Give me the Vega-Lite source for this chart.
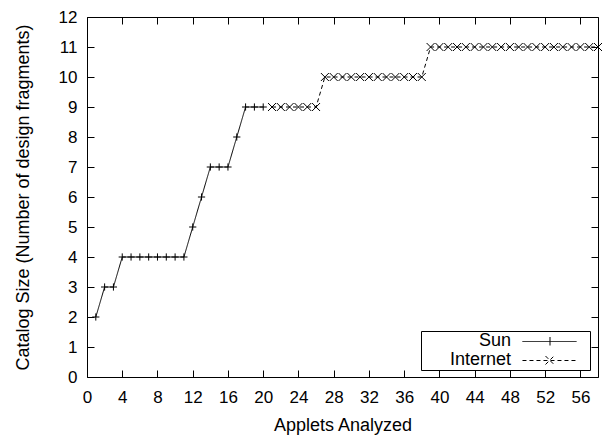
{
  "$schema": "https://vega.github.io/schema/vega-lite/v6.json",
  "width": 511,
  "height": 360,
  "autosize": "none",
  "padding": {"left": 87, "top": 17, "right": 4, "bottom": 58},
  "data": {
    "values": [
      {"applets": 1, "size": 2, "series": "Sun"},
      {"applets": 2, "size": 3, "series": "Sun"},
      {"applets": 3, "size": 3, "series": "Sun"},
      {"applets": 4, "size": 4, "series": "Sun"},
      {"applets": 5, "size": 4, "series": "Sun"},
      {"applets": 6, "size": 4, "series": "Sun"},
      {"applets": 7, "size": 4, "series": "Sun"},
      {"applets": 8, "size": 4, "series": "Sun"},
      {"applets": 9, "size": 4, "series": "Sun"},
      {"applets": 10, "size": 4, "series": "Sun"},
      {"applets": 11, "size": 4, "series": "Sun"},
      {"applets": 12, "size": 5, "series": "Sun"},
      {"applets": 13, "size": 6, "series": "Sun"},
      {"applets": 14, "size": 7, "series": "Sun"},
      {"applets": 15, "size": 7, "series": "Sun"},
      {"applets": 16, "size": 7, "series": "Sun"},
      {"applets": 17, "size": 8, "series": "Sun"},
      {"applets": 18, "size": 9, "series": "Sun"},
      {"applets": 19, "size": 9, "series": "Sun"},
      {"applets": 20, "size": 9, "series": "Sun"},
      {"applets": 21, "size": 9, "series": "Internet"},
      {"applets": 22, "size": 9, "series": "Internet"},
      {"applets": 23, "size": 9, "series": "Internet"},
      {"applets": 24, "size": 9, "series": "Internet"},
      {"applets": 25, "size": 9, "series": "Internet"},
      {"applets": 26, "size": 9, "series": "Internet"},
      {"applets": 27, "size": 10, "series": "Internet"},
      {"applets": 28, "size": 10, "series": "Internet"},
      {"applets": 29, "size": 10, "series": "Internet"},
      {"applets": 30, "size": 10, "series": "Internet"},
      {"applets": 31, "size": 10, "series": "Internet"},
      {"applets": 32, "size": 10, "series": "Internet"},
      {"applets": 33, "size": 10, "series": "Internet"},
      {"applets": 34, "size": 10, "series": "Internet"},
      {"applets": 35, "size": 10, "series": "Internet"},
      {"applets": 36, "size": 10, "series": "Internet"},
      {"applets": 37, "size": 10, "series": "Internet"},
      {"applets": 38, "size": 10, "series": "Internet"},
      {"applets": 39, "size": 11, "series": "Internet"},
      {"applets": 40, "size": 11, "series": "Internet"},
      {"applets": 41, "size": 11, "series": "Internet"},
      {"applets": 42, "size": 11, "series": "Internet"},
      {"applets": 43, "size": 11, "series": "Internet"},
      {"applets": 44, "size": 11, "series": "Internet"},
      {"applets": 45, "size": 11, "series": "Internet"},
      {"applets": 46, "size": 11, "series": "Internet"},
      {"applets": 47, "size": 11, "series": "Internet"},
      {"applets": 48, "size": 11, "series": "Internet"},
      {"applets": 49, "size": 11, "series": "Internet"},
      {"applets": 50, "size": 11, "series": "Internet"},
      {"applets": 51, "size": 11, "series": "Internet"},
      {"applets": 52, "size": 11, "series": "Internet"},
      {"applets": 53, "size": 11, "series": "Internet"},
      {"applets": 54, "size": 11, "series": "Internet"},
      {"applets": 55, "size": 11, "series": "Internet"},
      {"applets": 56, "size": 11, "series": "Internet"},
      {"applets": 57, "size": 11, "series": "Internet"},
      {"applets": 58, "size": 11, "series": "Internet"}
    ]
  },
  "layer": [
    {
      "mark": {"type": "line", "color": "black", "strokeWidth": 1},
      "encoding": {
        "x": {
          "field": "applets",
          "type": "quantitative",
          "scale": {"domain": [0, 58], "nice": false},
          "axis": {
            "orient": "bottom",
            "title": "Applets Analyzed",
            "values": [0, 4, 8, 12, 16, 20, 24, 28, 32, 36, 40, 44, 48, 52, 56],
            "tickSize": -7,
            "labelPadding": 32,
            "labelBaseline": "alphabetic",
            "labelFontSize": 17,
            "titleY": 53,
            "titleBaseline": "alphabetic"
          }
        },
        "y": {
          "field": "size",
          "type": "quantitative",
          "scale": {"domain": [0, 12], "nice": false},
          "axis": {
            "orient": "left",
            "title": "Catalog Size (Number of design fragments)",
            "values": [0, 1, 2, 3, 4, 5, 6, 7, 8, 9, 10, 11, 12],
            "tickSize": -7,
            "labelPadding": 17,
            "labelFontSize": 17,
            "titleX": -58.5,
            "titleY": 180,
            "titleAngle": 270,
            "titleAlign": "center",
            "titleBaseline": "alphabetic"
          }
        },
        "strokeDash": {
          "field": "series",
          "type": "nominal",
          "scale": {"domain": ["Sun", "Internet"], "range": [[1, 0], [4, 3]]},
          "legend": {
            "title": null,
            "orient": "none",
            "legendX": 334,
            "legendY": 314,
            "padding": 1,
            "strokeColor": "black",
            "fillColor": "white",
            "cornerRadius": 0,
            "rowPadding": 1,
            "labelFontSize": 18,
            "labelAlign": "right",
            "labelOffset": -47.5,
            "labelColor": "black",
            "symbolSize": 289,
            "symbolOffset": 118.5,
            "symbolStrokeColor": "black",
            "symbolStrokeWidth": 1,
            "symbolOpacity": 1,
            "encode": {
              "symbols": {
                "update": {
                  "opacity": {"value": 1},
                  "stroke": {"value": "black"},
                  "shape": {
                    "signal": "datum.value === 'Sun' ? 'M-3.18,0.059H3.18M0.059,-0.47V0.53M4.35,0' : 'M-3.18,0.059H3.18M-0.47,-0.47L0.53,0.53M-0.47,0.53L0.53,-0.47M4.35,0'"
                  }
                }
              }
            }
          }
        }
      }
    },
    {
      "transform": [{"filter": "datum.series === 'Sun'"}],
      "mark": {"type": "point", "filled": false, "stroke": "black", "strokeWidth": 1, "size": 64, "opacity": 1, "shape": "M-0.9,0H0.9M0,-0.9V0.9"},
      "encoding": {
        "x": {
          "field": "applets",
          "type": "quantitative",
          "axis": {
            "orient": "top",
            "title": null,
            "labels": false,
            "values": [0, 4, 8, 12, 16, 20, 24, 28, 32, 36, 40, 44, 48, 52, 56],
            "tickSize": -7
          }
        },
        "y": {
          "field": "size",
          "type": "quantitative",
          "axis": {
            "orient": "right",
            "title": null,
            "labels": false,
            "values": [0, 1, 2, 3, 4, 5, 6, 7, 8, 9, 10, 11, 12],
            "tickSize": -7
          }
        }
      }
    },
    {
      "transform": [{"filter": "datum.series === 'Internet'"}],
      "mark": {"type": "point", "filled": false, "stroke": "black", "strokeWidth": 1, "size": 64, "opacity": 1, "shape": "M-1,-1L1,1M-1,1L1,-1"},
      "encoding": {
        "x": {"field": "applets", "type": "quantitative", "axis": null},
        "y": {"field": "size", "type": "quantitative", "axis": null}
      }
    }
  ],
  "resolve": {"axis": {"x": "independent", "y": "independent"}},
  "config": {
    "font": "Liberation Sans",
    "view": {"stroke": null},
    "axis": {
      "grid": false,
      "domainColor": "black",
      "domainWidth": 1,
      "tickColor": "black",
      "tickWidth": 1,
      "labelColor": "black",
      "labelFont": "Liberation Sans",
      "titleFont": "Liberation Sans",
      "titleFontSize": 18,
      "titleFontWeight": "normal",
      "titleColor": "black",
      "labelFlush": false,
      "labelOverlap": false
    },
    "legend": {"labelFont": "Liberation Sans"}
  }
}
